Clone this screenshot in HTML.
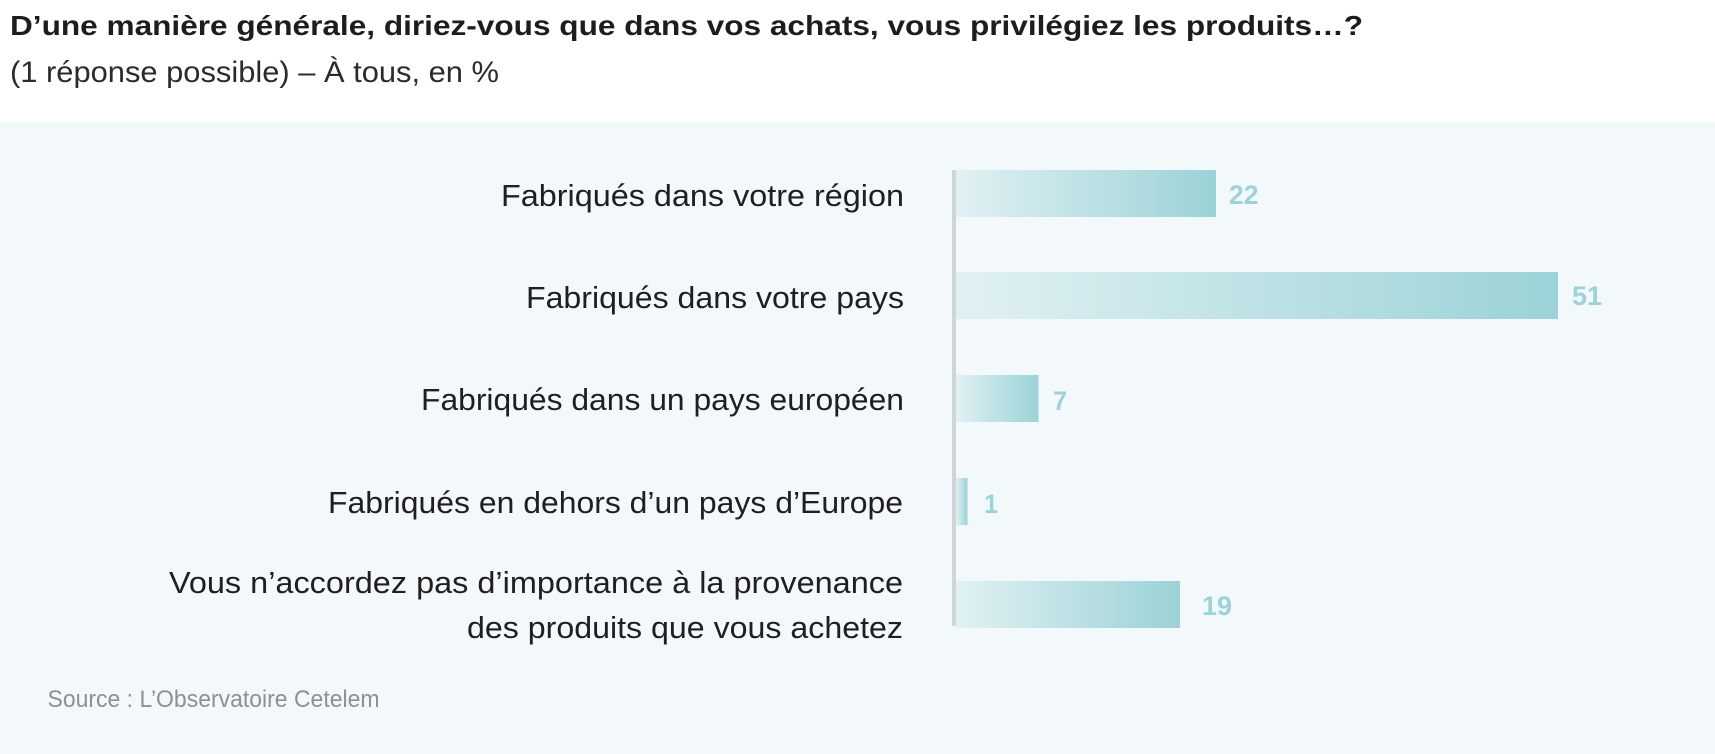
<!DOCTYPE html>
<html>
<head>
<meta charset="utf-8">
<style>
  html, body { margin: 0; padding: 0; background: #ffffff; }
  svg { display: block; }
</style>
</head>
<body>
<svg width="1715" height="754" viewBox="0 0 1715 754" xmlns="http://www.w3.org/2000/svg">
  <defs>
    <linearGradient id="g" x1="0" y1="0" x2="1" y2="0">
      <stop offset="0" stop-color="#e1f1f3"/>
      <stop offset="1" stop-color="#9bd2d7"/>
    </linearGradient>
  </defs>
  <rect x="0" y="0" width="1715" height="754" fill="#ffffff"/>
  <rect x="0" y="122" width="1715" height="632" fill="#f3f8fa"/>

  <text x="10" y="35" font-family="Liberation Sans, sans-serif" font-weight="bold" font-size="28" fill="#1d1d1b" textLength="1353" lengthAdjust="spacingAndGlyphs">D’une manière générale, diriez-vous que dans vos achats, vous privilégiez les produits…?</text>
  <text x="10" y="82" font-family="Liberation Sans, sans-serif" font-size="30" fill="#2b2b2b" textLength="489" lengthAdjust="spacingAndGlyphs">(1 réponse possible) – À tous, en %</text>

  <g font-family="Liberation Sans, sans-serif" font-size="31" fill="#1f1f1f">
    <text x="501" y="206" textLength="403" lengthAdjust="spacingAndGlyphs">Fabriqués dans votre région</text>
    <text x="526" y="308" textLength="378" lengthAdjust="spacingAndGlyphs">Fabriqués dans votre pays</text>
    <text x="421" y="410" textLength="483" lengthAdjust="spacingAndGlyphs">Fabriqués dans un pays européen</text>
    <text x="328" y="513" textLength="575" lengthAdjust="spacingAndGlyphs">Fabriqués en dehors d’un pays d’Europe</text>
    <text x="169" y="593" textLength="734" lengthAdjust="spacingAndGlyphs">Vous n’accordez pas d’importance à la provenance</text>
    <text x="467" y="638" textLength="436" lengthAdjust="spacingAndGlyphs">des produits que vous achetez</text>
  </g>

  <rect x="956" y="170" width="260" height="47" fill="url(#g)"/>
  <rect x="956" y="272" width="602" height="47" fill="url(#g)"/>
  <rect x="956" y="375" width="82.5" height="47" fill="url(#g)"/>
  <rect x="956" y="478" width="11.5" height="47" fill="url(#g)"/>
  <rect x="956" y="581" width="224" height="47" fill="url(#g)"/>

  <rect x="952" y="170" width="4" height="456" fill="#d2d5d8"/>

  <g font-family="Liberation Sans, sans-serif" font-weight="bold" font-size="27" fill="#9dd3d8">
    <text x="1229" y="204" textLength="29.5" lengthAdjust="spacingAndGlyphs">22</text>
    <text x="1572" y="305" textLength="30" lengthAdjust="spacingAndGlyphs">51</text>
    <text x="1053" y="410" textLength="14" lengthAdjust="spacingAndGlyphs">7</text>
    <text x="984" y="513" textLength="14" lengthAdjust="spacingAndGlyphs">1</text>
    <text x="1202" y="615" textLength="30" lengthAdjust="spacingAndGlyphs">19</text>
  </g>

  <text x="47.5" y="707" font-family="Liberation Sans, sans-serif" font-size="24" fill="#8c9196" textLength="332" lengthAdjust="spacingAndGlyphs">Source : L’Observatoire Cetelem</text>
</svg>
</body>
</html>
